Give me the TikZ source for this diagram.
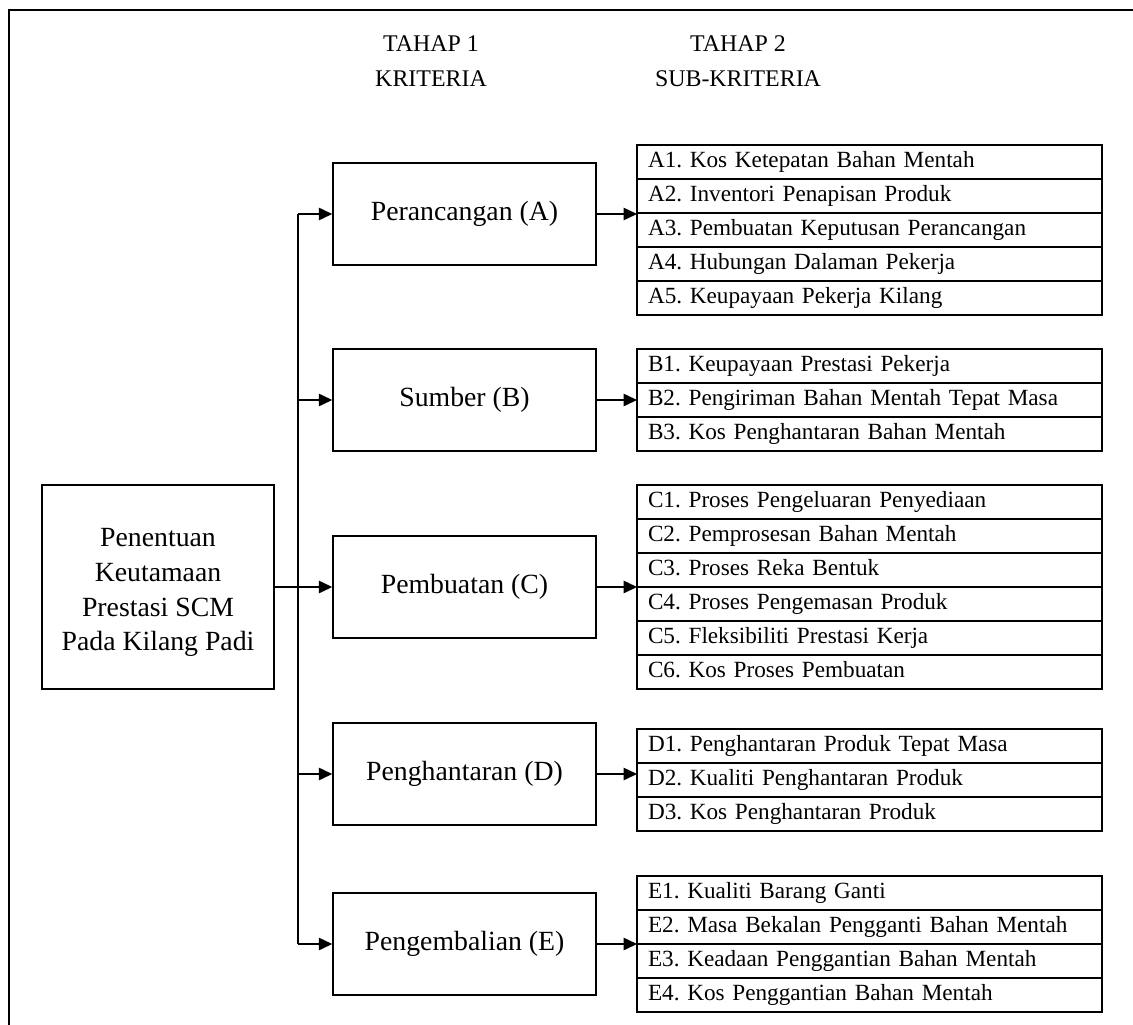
\documentclass[tikz,border=0pt]{standalone}
\usepackage{fontspec}
\setmainfont{Liberation Serif}
\usetikzlibrary{positioning,arrows.meta}

\tikzset{
  krit/.style={draw, line width=0.85pt, minimum width=5.26cm, minimum height=2.04cm,
    font=\fontsize{15.8pt}{19pt}\selectfont},
  sub/.style={draw, line width=0.85pt, outer sep=0pt, minimum height=0.68cm,
    text width=8.86cm, inner xsep=0.22cm, align=left, text height=0.33cm, text depth=0.11cm,
    font=\fontsize{13.2pt}{15pt}\selectfont\frenchspacing},
  arr/.style={-{Triangle[length=0.27cm,width=0.25cm]}, line width=0.85pt}
}

\begin{document}
\begin{tikzpicture}

% Define column and row positions
\def\colk{9.29}
\def\trunk{5.96}
\def\rowa{-4.28}
\def\rowb{-8.00}
\def\rowc{-11.74}
\def\rowd{-15.48}
\def\rowe{-18.88}

\useasboundingbox (0,0) rectangle (22.66,-20.5);

% Outer frame
\draw[line width=1.1pt] (0.18,-21) -- (0.18,-0.2) -- (23,-0.2);

% Headings
\node[align=center, font=\fontsize{13.6pt}{19.9pt}\selectfont] (tahapa) at (8.62,-1.22) {TAHAP 1\\KRITERIA};
\node[align=center, font=\fontsize{13.6pt}{19.9pt}\selectfont] (tahapb) at (14.76,-1.22) {TAHAP 2\\SUB-KRITERIA};

% Goal
\node[draw, line width=0.85pt, minimum width=4.64cm, minimum height=4.08cm, align=center,
  text height=2.55cm, text depth=0pt,
  font=\fontsize{15.8pt}{19.7pt}\selectfont] (goal) at (3.16,\rowc)
  {Penentuan\\Keutamaan\\Prestasi SCM\\Pada Kilang Padi};

% Criteria
\node[krit] (kritA) at (\colk,\rowa) {Perancangan (A)};
\node[krit] (kritB) at (\colk,\rowb) {Sumber (B)};
\node[krit] (kritC) at (\colk,\rowc) {Pembuatan (C)};
\node[krit] (kritD) at (\colk,\rowd) {Penghantaran (D)};
\node[krit] (kritE) at (\colk,\rowe) {Pengembalian (E)};

% Sub-criteria A
\node[sub, anchor=north west] (A1) at (12.74,-2.9) {A1. Kos Ketepatan Bahan Mentah};
\node[sub, below=0pt of A1] (A2) {A2. Inventori Penapisan Produk};
\node[sub, below=0pt of A2] (A3) {A3. Pembuatan Keputusan Perancangan};
\node[sub, below=0pt of A3] (A4) {A4. Hubungan Dalaman Pekerja};
\node[sub, below=0pt of A4] (A5) {A5. Keupayaan Pekerja Kilang};

% Sub-criteria B
\node[sub, anchor=north west] (B1) at (12.74,-6.98) {B1. Keupayaan Prestasi Pekerja};
\node[sub, below=0pt of B1] (B2) {B2. Pengiriman Bahan Mentah Tepat Masa};
\node[sub, below=0pt of B2] (B3) {B3. Kos Penghantaran Bahan Mentah};

% Sub-criteria C
\node[sub, anchor=north west] (C1) at (12.74,-9.7) {C1. Proses Pengeluaran Penyediaan};
\node[sub, below=0pt of C1] (C2) {C2. Pemprosesan Bahan Mentah};
\node[sub, below=0pt of C2] (C3) {C3. Proses Reka Bentuk};
\node[sub, below=0pt of C3] (C4) {C4. Proses Pengemasan Produk};
\node[sub, below=0pt of C4] (C5) {C5. Fleksibiliti Prestasi Kerja};
\node[sub, below=0pt of C5] (C6) {C6. Kos Proses Pembuatan};

% Sub-criteria D
\node[sub, anchor=north west] (D1) at (12.74,-14.58) {D1. Penghantaran Produk Tepat Masa};
\node[sub, below=0pt of D1] (D2) {D2. Kualiti Penghantaran Produk};
\node[sub, below=0pt of D2] (D3) {D3. Kos Penghantaran Produk};

% Sub-criteria E
\node[sub, anchor=north west] (E1) at (12.74,-17.52) {E1. Kualiti Barang Ganti};
\node[sub, below=0pt of E1] (E2) {E2. Masa Bekalan Pengganti Bahan Mentah};
\node[sub, below=0pt of E2] (E3) {E3. Keadaan Penggantian Bahan Mentah};
\node[sub, below=0pt of E3] (E4) {E4. Kos Penggantian Bahan Mentah};

% Trunk from goal to criteria
\coordinate (tA) at (\trunk,\rowa);
\coordinate (tE) at (\trunk,\rowe);
\draw[line width=1.1pt] (tA) -- (tE);
\draw[line width=1.7pt] (goal.east) -- (goal.east -| tA);
\draw[arr] (tA) -- (kritA);
\draw[arr] (tA |- kritB) -- (kritB);
\draw[arr] (tA |- kritC) -- (kritC);
\draw[arr] (tA |- kritD) -- (kritD);
\draw[arr] (tE) -- (kritE);

% Criteria to sub-criteria
\draw[arr] (kritA) -- (kritA -| A1.west);
\draw[arr] (kritB) -- (kritB -| B1.west);
\draw[arr] (kritC) -- (kritC -| C1.west);
\draw[arr] (kritD) -- (kritD -| D1.west);
\draw[arr] (kritE) -- (kritE -| E1.west);

\end{tikzpicture}
\end{document}
